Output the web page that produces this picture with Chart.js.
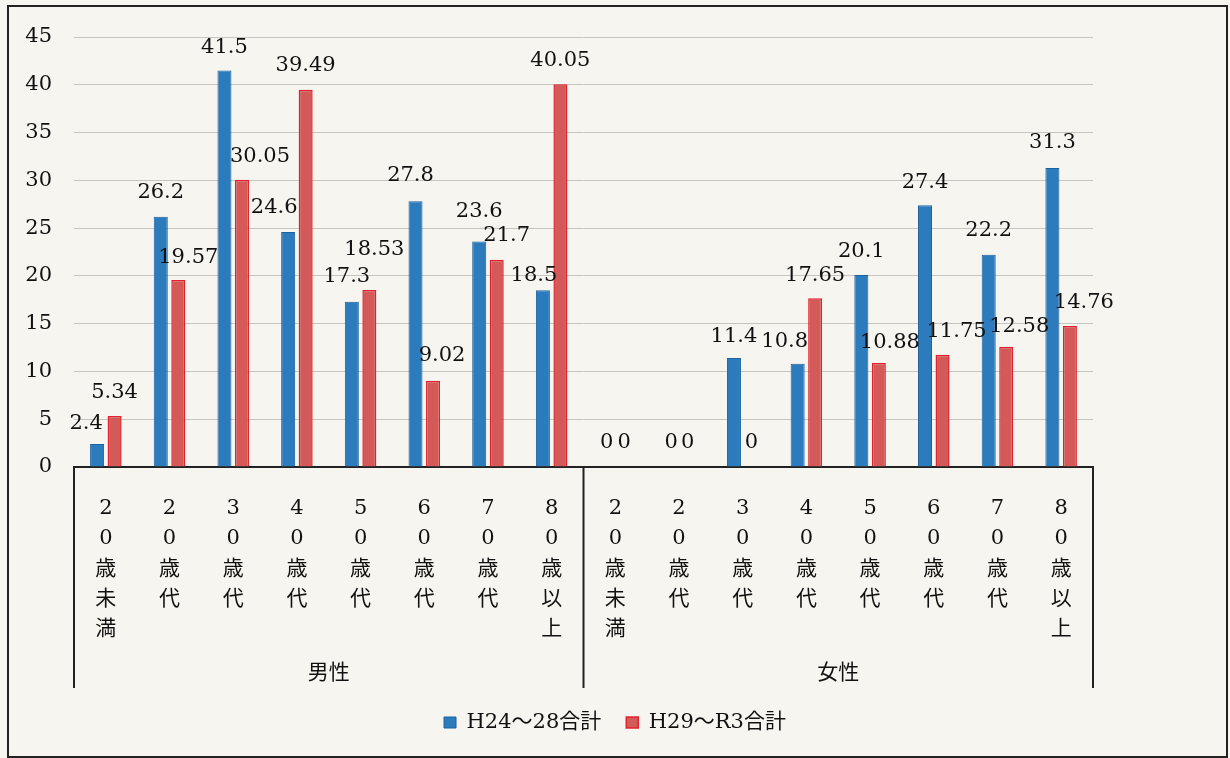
<!DOCTYPE html>
<html lang="ja">
<head>
<meta charset="utf-8">
<title>年代別 男女別</title>
<script src="https://cdn.jsdelivr.net/npm/chart.js@4.4.0/dist/chart.umd.min.js"></script>
<style>
    html, body { margin: 0; padding: 0; background: #f7f5ef; }
    #wrap { position: relative; width: 1230px; height: 758px; }
</style>
</head>
<body>
<div id="wrap"><canvas id="chart" width="1230" height="758"></canvas></div>
<script>
// データ
var ageGroups = ['20歳未満', '20歳代', '30歳代', '40歳代', '50歳代', '60歳代', '70歳代', '80歳以上'];
var genders = ['男性', '女性'];
var seriesNames = ['H24～28合計', 'H29～R3合計'];
var valuesH24 = [2.4, 26.2, 41.5, 24.6, 17.3, 27.8, 23.6, 18.5, 0, 0, 11.4, 10.8, 20.1, 27.4, 22.2, 31.3];
var valuesH29 = [5.34, 19.57, 30.05, 39.49, 18.53, 9.02, 21.7, 40.05, 0, 0, 0, 17.65, 10.88, 11.75, 12.58, 14.76];
var yTicks = [0, 5, 10, 15, 20, 25, 30, 35, 40, 45];

// ラベルの位置ずらし (dx, dy)
var nudgeH24 = [[-11, 2], [0, -1], [0, 0], [-14, -1], [-5, -2], [-5, -3], [0, -7], [-9, 8],
                [0, -1], [1, -1], [0, 1], [-13, 1], [0, 0], [0, 0], [0, -1], [0, -2]];
var nudgeH29 = [[0, 0], [10, 1], [18, 0], [0, -1], [5, -17], [9, -2], [10, -1], [0, -1],
                [0, -1], [0, -1], [0, -1], [0, 0], [11, 3], [14, 0], [13, 3], [14, 0]];

var serif = '"DejaVu Serif", "Noto Sans CJK JP", serif';
var ink = '#111';

// カテゴリ: 性別 x 年代
var categories = [];
genders.forEach(function(g) {
    ageGroups.forEach(function(a) {
        categories.push(Array.from(a)); // 縦書き
    });
});

// 枠線
var framePlugin = {
    id: 'frame',
    beforeDraw: function(chart) {
        var ctx = chart.ctx;
        ctx.save();
        ctx.fillStyle = '#f7f5ef';
        ctx.fillRect(0, 0, chart.width, chart.height);
        ctx.strokeStyle = '#222';
        ctx.lineWidth = 2;
        ctx.strokeRect(8, 6, 1219, 751);
        ctx.restore();
    }
};

// 性別の区切りとラベル
var groupPlugin = {
    id: 'groups',
    afterDraw: function(chart) {
        var ctx = chart.ctx;
        var xs = chart.scales.x;
        var half = (xs.getPixelForValue(1) - xs.getPixelForValue(0)) / 2;
        var top = xs.top;
        var bottom = xs.top + 221;
        ctx.save();
        ctx.strokeStyle = '#222';
        ctx.lineWidth = 2;
        var edges = [];
        for (var g = 0; g <= genders.length; g++) {
            var idx = g * ageGroups.length;
            var px = g < genders.length ? xs.getPixelForValue(idx) - half : xs.getPixelForValue(idx - 1) + half;
            edges.push(px);
            ctx.beginPath();
            ctx.moveTo(px, top);
            ctx.lineTo(px, bottom);
            ctx.stroke();
        }
        ctx.fillStyle = ink;
        ctx.font = '21px "Noto Sans CJK JP", sans-serif';
        ctx.textAlign = 'center';
        ctx.textBaseline = 'middle';
        genders.forEach(function(name, i) {
            ctx.fillText(name, (edges[i] + edges[i + 1]) / 2, top + 204);
        });
        ctx.restore();
    }
};

// データラベル
var valueLabelPlugin = {
    id: 'valueLabels',
    afterDatasetsDraw: function(chart) {
        var ctx = chart.ctx;
        var nudges = [nudgeH24, nudgeH29];
        ctx.save();
        ctx.fillStyle = ink;
        ctx.font = '21px ' + serif;
        ctx.textAlign = 'center';
        ctx.textBaseline = 'middle';
        chart.data.datasets.forEach(function(ds, d) {
            var meta = chart.getDatasetMeta(d);
            meta.data.forEach(function(bar, i) {
                var n = nudges[d][i];
                ctx.fillText(String(ds.data[i]), bar.x + n[0], bar.y - 23 + n[1]);
            });
        });
        ctx.restore();
    }
};

var ctx = document.getElementById('chart').getContext('2d');
new Chart(ctx, {
    type: 'bar',
    data: {
        labels: categories,
        datasets: [{
            label: seriesNames[0],
            data: valuesH24,
            backgroundColor: '#2c7bbd',
            borderColor: '#1b62a0',
            borderWidth: 1,
            categoryPercentage: 0.55,
            barPercentage: 0.8
        }, {
            label: seriesNames[1],
            data: valuesH29,
            backgroundColor: '#d45a5a',
            borderColor: '#e1222e',
            borderWidth: 1.5,
            categoryPercentage: 0.55,
            barPercentage: 0.8
        }]
    },
    options: {
        responsive: false,
        animation: false,
        layout: { padding: { top: 37, left: 0, right: 0, bottom: 15 } },
        scales: {
            x: {
                grid: { display: false, drawTicks: false },
                border: { display: true, color: '#222', width: 2 },
                ticks: {
                    autoSkip: false,
                    maxRotation: 0,
                    padding: 27,
                    color: ink,
                    font: { family: serif, size: 21, lineHeight: 1.43 }
                },
                afterFit: function(scale) { scale.height = 220; }
            },
            y: {
                min: 0,
                max: 45,
                afterBuildTicks: function(scale) {
                    scale.ticks = yTicks.map(function(v) { return { value: v }; });
                },
                grid: { color: '#c6c5bf', lineWidth: 1, drawTicks: false },
                border: { display: false },
                ticks: { padding: 22, color: ink, font: { family: serif, size: 21 } },
                afterFit: function(scale) { scale.width = 74; }
            },
            spacer: {
                position: 'right',
                grid: { display: false, drawTicks: false },
                border: { display: false },
                ticks: { display: false },
                afterFit: function(scale) { scale.width = 137; }
            }
        },
        plugins: {
            legend: {
                position: 'bottom',
                labels: {
                    boxWidth: 12,
                    boxHeight: 11,
                    padding: 25,
                    color: ink,
                    font: { family: serif, size: 21 }
                }
            },
            tooltip: { enabled: false }
        }
    },
    plugins: [framePlugin, groupPlugin, valueLabelPlugin]
});
</script>
</body>
</html>
